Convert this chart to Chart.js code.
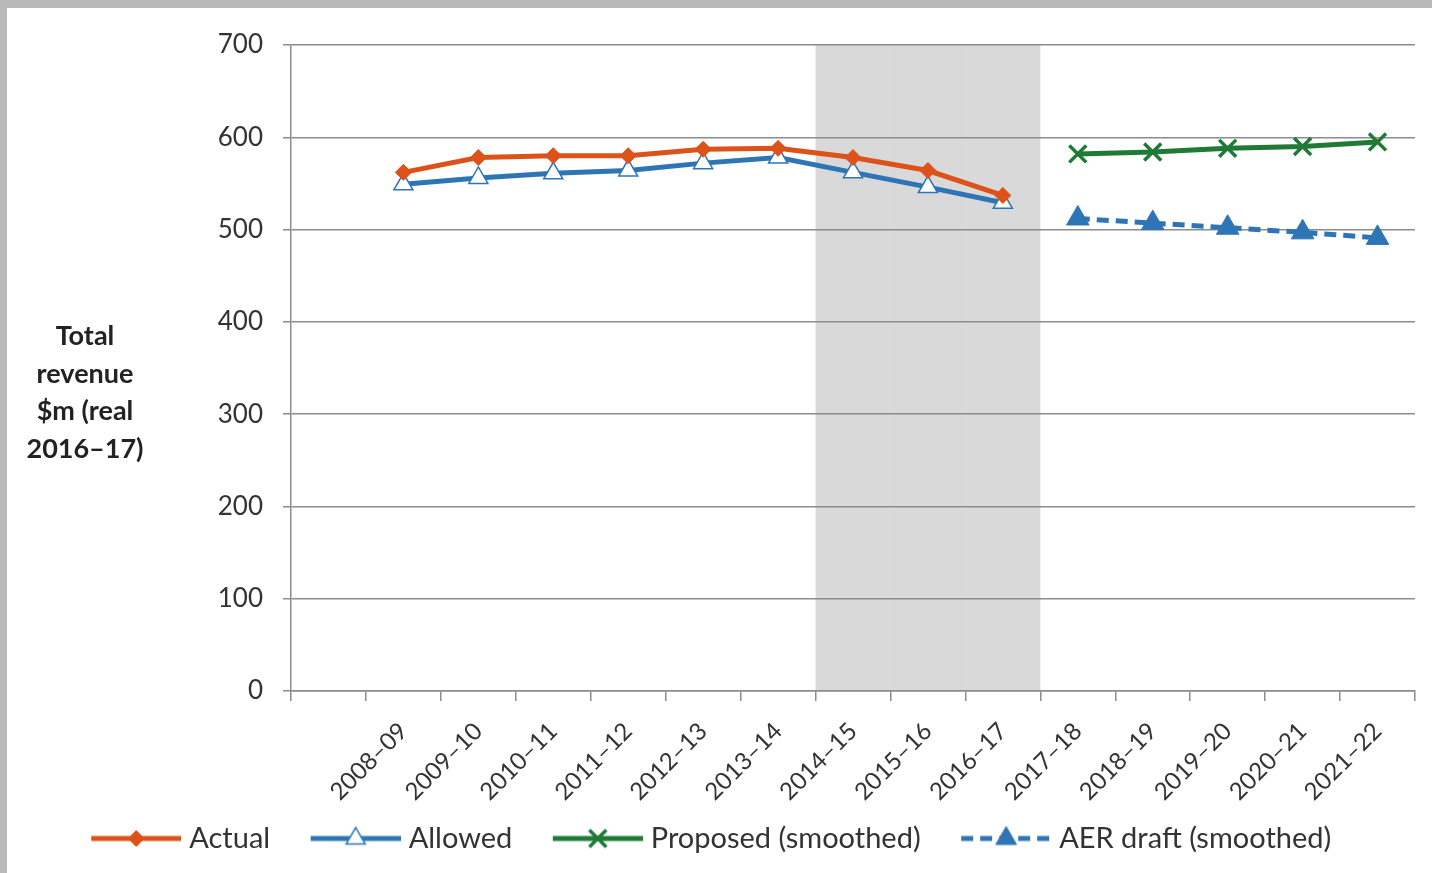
<!DOCTYPE html>
<html>
<head>
<meta charset="utf-8">
<script src="https://cdn.jsdelivr.net/npm/chart.js@4.4.1/dist/chart.umd.min.js"></script>
<style>
  html, body { margin: 0; padding: 0; background: #b9b9b9; width: 1432px; height: 873px; overflow: hidden; }
  #frame { position: absolute; left: 7px; top: 8px; width: 1425px; height: 865px; background: #fff; }
  #ytitle { position: absolute; left: 5px; top: 316px; width: 160px; text-align: center;
            font: bold 27px Lato, sans-serif; line-height: 37.5px; color: #222; }
</style>
</head>
<body>
<div id="frame"><canvas id="grafico"></canvas></div>
<div id="ytitle">Total<br>revenue<br>$m (real<br>2016–17)</div>
<script>
const anos = ["", "2008–09", "2009–10", "2010–11", "2011–12", "2012–13", "2013–14", "2014–15",
  "2015–16", "2016–17", "2017–18", "2018–19", "2019–20", "2020–21", "2021–22"];
const actual = [null, 562, 578, 580, 580, 587, 588, 578, 564, 537, null, null, null, null, null];
const allowed = [null, 549, 556, 561, 564, 572, 578, 562, 546, 529, null, null, null, null, null];
const proposed = [null, null, null, null, null, null, null, null, null, null, 582, 584, 588, 590, 595];
const aerDraft = [null, null, null, null, null, null, null, null, null, null, 512, 507, 502, 497, 491];
// current regulatory period shaded (2014–15 to 2016–17)
const periodo = [null, null, null, null, null, null, null, 700, 700, 700, null, null, null, null, null];
const yTicks = [0, 100, 200, 300, 400, 500, 600, 700];

const laranja = '#dc5219';
const azul = '#2e75b6';
const verde = '#1f7a36';

// legend icon: line with marker in the middle
function icone(cor, estilo, raio, preenchimento, tracejado, bw) {
  const c = document.createElement('canvas');
  c.width = 127; c.height = 30;
  const g = c.getContext('2d');
  g.strokeStyle = cor; g.lineWidth = 5;
  if (tracejado) g.setLineDash(tracejado);
  g.beginPath(); g.moveTo(37, 15); g.lineTo(127, 15); g.stroke();
  g.setLineDash([]);
  g.fillStyle = preenchimento; g.strokeStyle = cor; g.lineWidth = bw;
  Chart.helpers.drawPoint(g, { radius: raio, pointStyle: estilo, rotation: 0, borderWidth: bw }, 82, 15);
  return c;
}

document.addEventListener('DOMContentLoaded', function () {
  const icones = [
    icone(laranja, 'rectRot', 8, laranja, null, 1),
    icone(azul, 'triangle', 11, '#fff', null, 1.5),
    icone(verde, 'crossRot', 12, verde, null, 3.5),
    icone(azul, 'triangle', 12, azul, [12, 7], 1)
  ];

  const ctx = document.getElementById('grafico');
  new Chart(ctx, {
    type: 'line',
    data: {
      labels: anos,
      datasets: [{
        label: 'Actual',
        data: actual,
        borderColor: laranja,
        backgroundColor: laranja,
        borderWidth: 5,
        pointStyle: 'rectRot',
        pointRadius: 8,
        pointBorderWidth: 1
      }, {
        label: 'Allowed',
        data: allowed,
        borderColor: azul,
        backgroundColor: '#fff',
        borderWidth: 5,
        pointStyle: 'triangle',
        pointRadius: 11,
        pointBorderWidth: 1.5
      }, {
        label: 'Proposed (smoothed)',
        data: proposed,
        borderColor: verde,
        backgroundColor: verde,
        borderWidth: 5,
        pointStyle: 'crossRot',
        pointRadius: 12,
        pointBorderWidth: 3.5
      }, {
        label: 'AER draft (smoothed)',
        data: aerDraft,
        borderColor: azul,
        backgroundColor: azul,
        borderWidth: 5,
        borderDash: [12, 7],
        pointStyle: 'triangle',
        pointRadius: 13,
        pointBorderWidth: 1
      }, {
        type: 'bar',
        label: 'periodo',
        data: periodo,
        backgroundColor: 'rgba(140, 140, 140, 0.33)',
        barPercentage: 1,
        categoryPercentage: 1,
        inflateAmount: 0,
        borderWidth: 0,
        order: 1
      }]
    },
    options: {
      responsive: true,
      maintainAspectRatio: false,
      animation: false,
      // negative left padding only nudges the centred legend; y axis width makes up for it
      layout: { padding: { top: 37, right: 17, left: -30, bottom: 10 } },
      plugins: {
        tooltip: { enabled: false },
        legend: {
          position: 'bottom',
          labels: {
            usePointStyle: true,
            pointStyleWidth: 114,
            padding: 10,
            color: '#333',
            font: { family: 'Lato', size: 29 },
            filter: item => item.text !== 'periodo',
            generateLabels: function (chart) {
              const itens = Chart.defaults.plugins.legend.labels.generateLabels(chart);
              itens.forEach(it => { if (icones[it.datasetIndex]) it.pointStyle = icones[it.datasetIndex]; });
              return itens;
            }
          }
        }
      },
      scales: {
        x: {
          offset: true,
          grid: { offset: true, drawOnChartArea: false, drawTicks: true, tickLength: 10, color: '#8c8c8c', lineWidth: 1.5 },
          border: { color: '#8c8c8c', width: 1.5 },
          ticks: {
            autoSkip: false, maxRotation: 45, minRotation: 45, padding: 16,
            color: '#333', font: { family: 'Lato', size: 24 }
          },
          afterFit: s => { s.height = 123; }
        },
        y: {
          min: 0,
          max: 700,
          afterBuildTicks: s => { s.ticks = yTicks.map(v => ({ value: v })); },
          grid: { color: '#8c8c8c', lineWidth: 1.5, tickLength: 8 },
          border: { color: '#8c8c8c', width: 1.5 },
          ticks: { padding: 20, color: '#333', font: { family: 'Lato', size: 26 } },
          afterFit: s => { s.width = 314; }
        }
      }
    }
  });
});
</script>
</body>
</html>
